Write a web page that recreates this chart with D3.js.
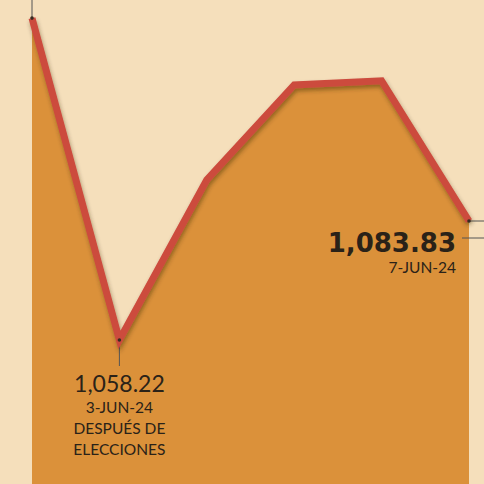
<!DOCTYPE html>
<html>
<head>
<meta charset="utf-8">
<script src="https://cdn.jsdelivr.net/npm/d3@7"></script>
<style>
  html, body { margin: 0; padding: 0; background: #f5dfbb; }
  svg { display: block; }
</style>
</head>
<body>
<div id="chart"></div>
<script>
// values
const dates = ['31-MAY-24', '3-JUN-24', '4-JUN-24', '5-JUN-24', '6-JUN-24', '7-JUN-24']
const values = [1127.5, 1058.22, 1092.7, 1113.1, 1114.0, 1083.83]

const W = 484, H = 484
const BG = '#f5dfbb', AREA = '#db913a', LINE = '#cc4b3e', INK = '#2a2218'
const FONT = 'Lato, "Open Sans", sans-serif'

const data = dates.map((d, i) => ({ date: d, value: values[i] }))

const svg = d3.select('#chart').append('svg')
  .attr('width', W).attr('height', H)

svg.append('rect').attr('width', W).attr('height', H).attr('fill', BG)

const defs = svg.append('defs')
defs.append('filter').attr('id', 'shadow')
  .attr('x', '-10%').attr('y', '-10%').attr('width', '120%').attr('height', '130%')
  .append('feDropShadow')
  .attr('dx', 1).attr('dy', 3).attr('stdDeviation', 2)
  .attr('flood-color', '#3a2a10').attr('flood-opacity', 0.45)

const x = d3.scalePoint().domain(dates).range([32, 469])
const y = d3.scaleLinear().domain([1058.22, 1083.83]).range([340, 221])

// area
svg.append('path')
  .datum(data)
  .attr('fill', AREA)
  .attr('d', d3.area().x(d => x(d.date)).y0(H).y1(d => y(d.value)))

// leader lines
const lead = svg.append('g').attr('stroke', '#555').attr('stroke-width', 1)
const first = data[0], low = data[1], last = data[data.length - 1]
lead.append('line')
  .attr('x1', x(first.date)).attr('x2', x(first.date))
  .attr('y1', 0).attr('y2', y(first.value))
lead.append('line')
  .attr('x1', x(low.date)).attr('x2', x(low.date))
  .attr('y1', y(low.value)).attr('y2', y(low.value) + 26)
lead.append('line')
  .attr('x1', x(last.date)).attr('x2', W)
  .attr('y1', y(last.value)).attr('y2', y(last.value))
lead.append('line')
  .attr('x1', x(last.date) - 7).attr('x2', W)
  .attr('y1', y(last.value) + 17).attr('y2', y(last.value) + 17)

// line
svg.append('path')
  .datum(data)
  .attr('fill', 'none')
  .attr('stroke', LINE)
  .attr('stroke-width', 7)
  .attr('stroke-linejoin', 'miter')
  .attr('filter', 'url(#shadow)')
  .attr('d', d3.line().x(d => x(d.date)).y(d => y(d.value)))

// small markers at labelled points
svg.selectAll('.dot')
  .data([first, low, last])
  .join('circle')
  .attr('cx', d => x(d.date)).attr('cy', d => y(d.value))
  .attr('r', 1.8).attr('fill', '#3a2a20')

const fmt = d3.format(',.2f')

// low label
const lowX = x(low.date), lowY = y(low.value)
const lowG = svg.append('g').attr('text-anchor', 'middle').attr('fill', INK).attr('font-family', FONT)
lowG.append('text').attr('x', lowX).attr('y', lowY + 52)
  .attr('font-size', 23).text(fmt(low.value))
lowG.append('text').attr('x', lowX).attr('y', lowY + 73)
  .attr('font-size', 15.5).text(low.date)
lowG.append('text').attr('x', lowX).attr('y', lowY + 94)
  .attr('font-size', 15.5).text('DESPUÉS DE')
lowG.append('text').attr('x', lowX).attr('y', lowY + 115)
  .attr('font-size', 15.5).text('ELECCIONES')

// last label
const lastX = x(last.date), lastY = y(last.value)
const lastG = svg.append('g').attr('text-anchor', 'end').attr('fill', INK)
lastG.append('text').attr('x', lastX - 13).attr('y', lastY + 31)
  .attr('font-family', '"DejaVu Sans", sans-serif')
  .attr('font-size', 26).attr('font-weight', 'bold').text(fmt(last.value))
lastG.append('text').attr('x', lastX - 13).attr('y', lastY + 52)
  .attr('font-family', FONT)
  .attr('font-size', 15.5).text(last.date)
</script>
</body>
</html>
